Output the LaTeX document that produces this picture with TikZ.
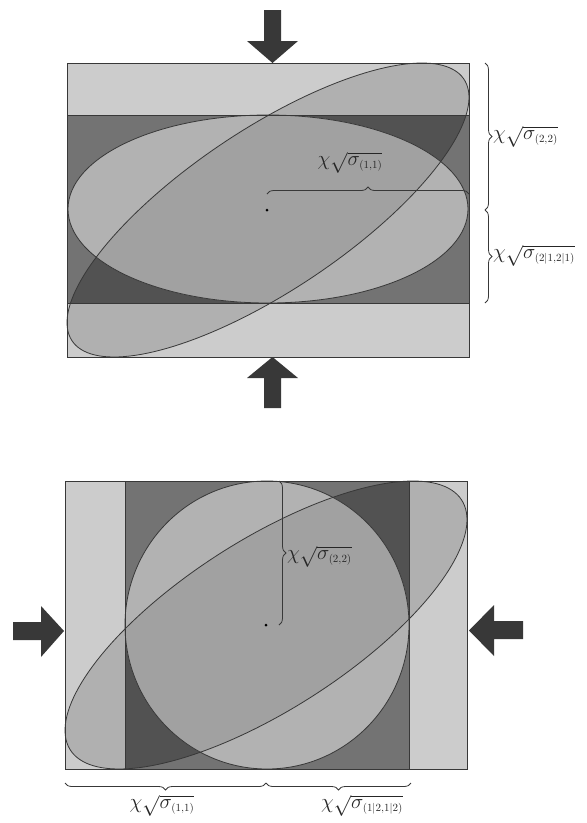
\documentclass[tikz,border=0pt]{standalone}
\usetikzlibrary{decorations.pathreplacing}
\definecolor{lightbg}{gray}{0.80}
\definecolor{tiltlight}{gray}{0.69}
\definecolor{darkband}{gray}{0.45}
\definecolor{tiltdark}{gray}{0.32}
\definecolor{ellC}{gray}{0.70}
\definecolor{ellD}{gray}{0.63}
\definecolor{edgec}{gray}{0.22}
\definecolor{arrowc}{gray}{0.22}
\newcommand{\chilab}[1]{$\chi\sqrt{\sigma_{\scriptscriptstyle #1}}$}
\tikzset{
  outline/.style={draw=edgec, line width=0.8pt},
  bandline/.style={draw=edgec, line width=0.9pt},
  blockarrow/.style={fill=arrowc},
  bracedec/.style={decorate, decoration={brace, amplitude=7pt}, draw=edgec, line width=0.8pt},
  lbl/.style={inner sep=1pt, font=\fontsize{21}{24}\selectfont, text=black!85},
  cdot/.style={circle, fill=black, inner sep=0pt, minimum size=3pt}
}
\begin{document}
\begin{tikzpicture}[x=1pt,y=-1pt]
\useasboundingbox (0,0) rectangle (587,823);
% ================= TOP FIGURE =================
\fill[lightbg] (67,63) rectangle (469,357);
\fill[tiltlight] plot[domain=0:360,samples=160,variable=\t] ({268+201*cos(\t)},{210-147*cos(\t-40)}) -- cycle;
\begin{scope}
  \clip (67,115) rectangle (469,303);
  \fill[darkband] (67,115) rectangle (469,303);
  \fill[tiltdark] plot[domain=0:360,samples=160,variable=\t] ({268+201*cos(\t)},{210-147*cos(\t-40)}) -- cycle;
\end{scope}
\fill[ellC] (268,209) ellipse [x radius=200, y radius=94];
\begin{scope}
  \clip (268,209) ellipse [x radius=200, y radius=94];
  \fill[ellD] plot[domain=0:360,samples=160,variable=\t] ({268+201*cos(\t)},{210-147*cos(\t-40)}) -- cycle;
\end{scope}
\draw[bandline] (67,115) -- (469,115) (67,303) -- (469,303);
\draw[outline] (268,209) ellipse [x radius=200, y radius=94];
\draw[outline] plot[domain=0:360,samples=160,variable=\t] ({268+201*cos(\t)},{210-147*cos(\t-40)}) -- cycle;
\draw[outline] (67,63) rectangle (469,357);
\node[cdot] (c1) at (267,210) {};
% arrows
\fill[blockarrow] (264,10) -- (281,10) -- (281,41) -- (298,41) -- (272.5,63) -- (247,41) -- (264,41) -- cycle;
\fill[blockarrow] (264,408) -- (281,408) -- (281,378) -- (298,378) -- (272.5,357) -- (247,378) -- (264,378) -- cycle;
% braces
\coordinate (r1) at (485,63);
\coordinate (r2) at (485,210);
\coordinate (r3) at (485,303);
\draw[bracedec] (r1) -- (r2);
\draw[bracedec] (r2) -- (r3);
\coordinate (h1) at (267,194);
\coordinate (h2) at (469,194);
\draw[bracedec] (h1) -- (h2);
\node[lbl, anchor=west] (t22) at (492,137) {\chilab{(2,2)}};
\node[lbl, anchor=west] (t21) at (492,256) {\chilab{(2|1,2|1)}};
\node[lbl] (t11) at (350,163) {\chilab{(1,1)}};
% ================= BOTTOM FIGURE =================
\fill[lightbg] (65,481) rectangle (467,769);
\fill[tiltlight] plot[domain=0:360,samples=160,variable=\t] ({266+201*cos(\t-43)},{625-144*cos(\t)}) -- cycle;
\begin{scope}
  \clip (125,481) rectangle (409,769);
  \fill[darkband] (125,481) rectangle (409,769);
  \fill[tiltdark] plot[domain=0:360,samples=160,variable=\t] ({266+201*cos(\t-43)},{625-144*cos(\t)}) -- cycle;
\end{scope}
\fill[ellC] (267,625) ellipse [x radius=142, y radius=144];
\begin{scope}
  \clip (267,625) ellipse [x radius=142, y radius=144];
  \fill[ellD] plot[domain=0:360,samples=160,variable=\t] ({266+201*cos(\t-43)},{625-144*cos(\t)}) -- cycle;
\end{scope}
\draw[bandline] (125,481) -- (125,769) (409,481) -- (409,769);
\draw[outline] (267,625) ellipse [x radius=142, y radius=144];
\draw[outline] plot[domain=0:360,samples=160,variable=\t] ({266+201*cos(\t-43)},{625-144*cos(\t)}) -- cycle;
\draw[outline] (65,481) rectangle (467,769);
\node[cdot] (c2) at (266,625) {};
% arrows
\fill[blockarrow] (13,622) -- (41,622) -- (41,606) -- (64,631) -- (41,657) -- (41,640) -- (13,640) -- cycle;
\fill[blockarrow] (523,621) -- (494,621) -- (494,605) -- (469,630.5) -- (494,656) -- (494,639) -- (523,639) -- cycle;
% braces
\coordinate (v1) at (279,481);
\coordinate (v2) at (279,625);
\draw[bracedec] (v1) -- (v2);
\coordinate (b1) at (65,783);
\coordinate (b2) at (266,783);
\coordinate (b3) at (411,783);
\draw[bracedec] (b2) -- (b1);
\draw[bracedec] (b3) -- (b2);
\node[lbl, anchor=west] (s22) at (286,557) {\chilab{(2,2)}};
\node[lbl] (s11) at (162,806) {\chilab{(1,1)}};
\node[lbl] (s12) at (362,806) {\chilab{(1|2,1|2)}};
\end{tikzpicture}
\end{document}
